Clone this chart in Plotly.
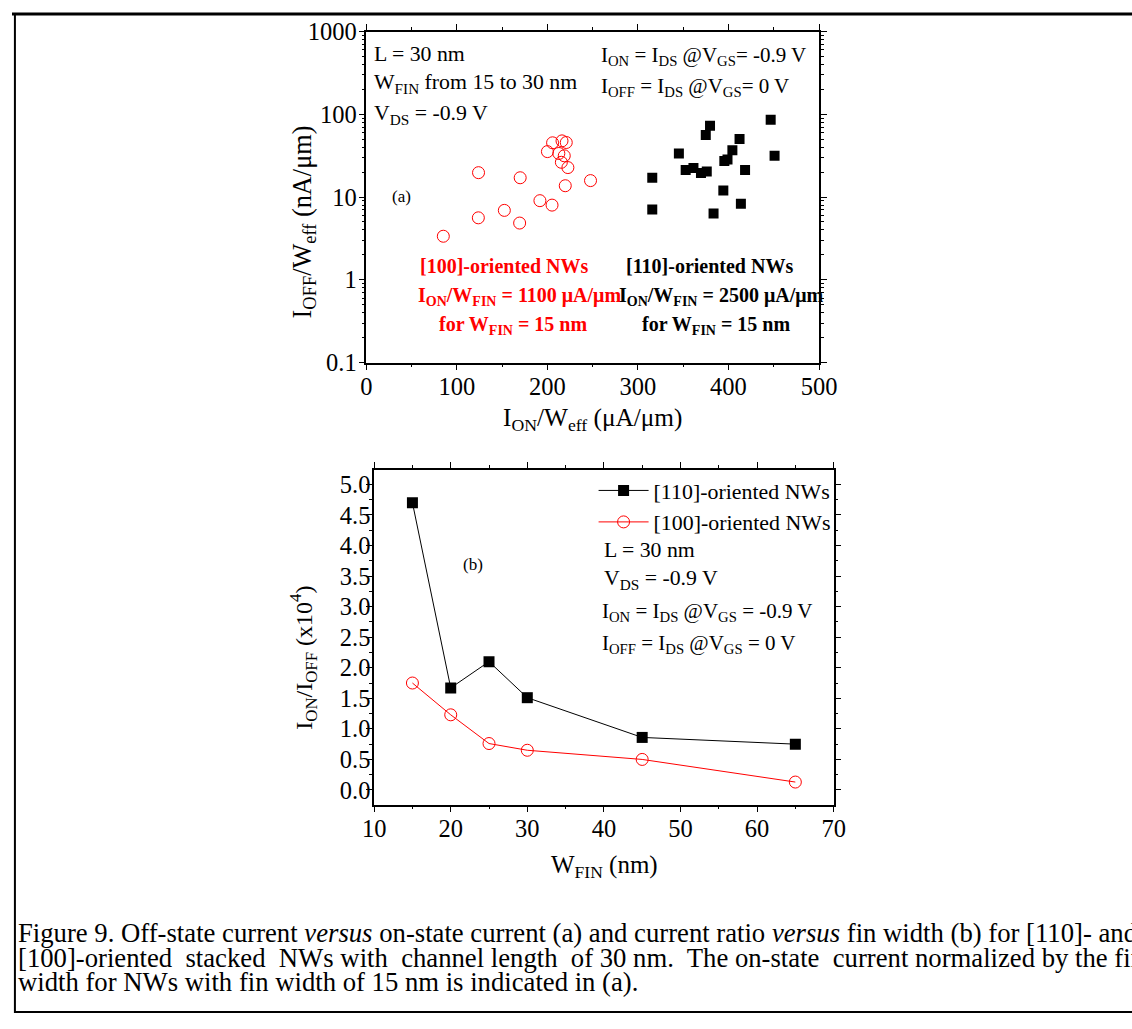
import plotly.graph_objects as go

W, H = 1132, 1029
FONT = "Liberation Serif"

# (a) off-state current vs on-state current
ion_100 = [205.7, 216.1, 220.8, 200.0, 212.6, 218.6, 215.4, 222.6, 123.9, 169.9,
           247.6, 219.7, 191.7, 205.1, 152.4, 123.7, 169.3, 85.0]
ioff_100 = [45.2, 47.7, 45.6, 35.4, 33.6, 31.5, 26.3, 22.7, 19.7, 17.1,
            15.8, 13.7, 9.04, 7.99, 6.90, 5.61, 4.85, 3.36]
ion_110 = [446.6, 379.6, 374.9, 412.2, 345.2, 404.3, 450.9, 398.9, 395.4, 352.7,
           361.3, 369.6, 376.0, 418.3, 315.8, 394.3, 413.7, 315.8, 383.5]
ioff_110 = [85.7, 72.8, 56.2, 50.4, 33.6, 36.7, 31.5, 28.5, 27.2, 21.2,
            22.4, 19.5, 20.4, 21.2, 17.1, 12.0, 8.27, 7.09, 6.31]

# (b) current ratio vs fin width
w_fin = [15, 20, 25, 30, 45, 65]
ratio_110 = [4.70, 1.67, 2.10, 1.51, 0.86, 0.75]
ratio_100 = [1.75, 1.23, 0.76, 0.65, 0.50, 0.13]


def px(x):
    return x / W


def py(y):
    return 1 - y / H


fig = go.Figure()

# panel (a)
fig.add_trace(go.Scatter(
    x=ion_100, y=ioff_100, mode="markers", showlegend=False,
    marker=dict(symbol="circle-open", size=12, color="red", line=dict(width=1)),
    xaxis="x", yaxis="y"))
fig.add_trace(go.Scatter(
    x=ion_110, y=ioff_110, mode="markers", showlegend=False,
    marker=dict(symbol="square", size=10, color="black"),
    xaxis="x", yaxis="y"))

# panel (b)
fig.add_trace(go.Scatter(
    x=w_fin, y=ratio_110, mode="lines+markers", name="[110]-oriented NWs",
    line=dict(color="black", width=1),
    marker=dict(symbol="square", size=11, color="black"),
    xaxis="x2", yaxis="y2"))
fig.add_trace(go.Scatter(
    x=w_fin, y=ratio_100, mode="lines+markers", name="[100]-oriented NWs",
    line=dict(color="red", width=1),
    marker=dict(symbol="circle-open", size=12, color="red", line=dict(width=1)),
    xaxis="x2", yaxis="y2"))

ax_common = dict(
    showline=True, linecolor="black", linewidth=1.5, mirror="ticks",
    ticks="outside", ticklen=6, tickwidth=1.2, tickcolor="black",
    showgrid=False, zeroline=False,
    tickfont=dict(family=FONT, size=24.5, color="black"),
)

fig.update_layout(
    width=W, height=H,
    margin=dict(l=0, r=0, t=0, b=0),
    paper_bgcolor="white", plot_bgcolor="white",
    font=dict(family=FONT, size=21, color="black"),
    xaxis=dict(
        ax_common, domain=[px(364), px(829)], anchor="y", range=[0, 500], dtick=100,
        ticklabelstandoff=-5,
        minor=dict(dtick=50, ticks="outside", ticklen=3, tickcolor="black"),
    ),
    yaxis=dict(
        ax_common, domain=[py(359), py(19)], anchor="x", type="log", range=[-1, 3], dtick=1,
        ticklabelstandoff=-3,
        minor=dict(dtick="D1", ticks="outside", ticklen=3, tickcolor="black"),
    ),
    xaxis2=dict(
        ax_common, domain=[px(372), px(844)], anchor="y2", range=[10, 70], dtick=10,
        ticklabelstandoff=-5,
        minor=dict(dtick=5, ticks="outside", ticklen=3, tickcolor="black"),
    ),
    yaxis2=dict(
        ax_common, domain=[py(813), py(469)], anchor="x2", range=[-0.24, 5.24], dtick=0.5,
        tickformat=".1f", ticklabelstandoff=-9,
        minor=dict(dtick=0.25, ticks="outside", ticklen=3, tickcolor="black"),
    ),
    legend=dict(
        x=px(846), y=py(469), xanchor="right", yanchor="top",
        bgcolor="rgba(0,0,0,0)", font=dict(family=FONT, size=21.9),
        tracegroupgap=0, itemwidth=50,
    ),
)

# axis titles
titles = [
    ("I<sub>ON</sub>/W<sub>eff</sub> (μA/μm)", 596, 417, 0, 25.3),
    ("I<sub>OFF</sub>/W<sub>eff</sub> (nA/μm)", 300, 215, -90, 26.3),
    ("W<sub>FIN</sub> (nm)", 609, 876, 0, 25),
    ("I<sub>ON</sub>/I<sub>OFF</sub> (x10<sup>4</sup>)", 299, 662, -90, 24),
]
for text, x, y, angle, size in titles:
    fig.add_annotation(
        text=text, x=px(x), y=py(y), xref="paper", yref="paper",
        xanchor="center", yanchor="middle", showarrow=False, textangle=angle,
        font=dict(family=FONT, size=size, color="black"))

notes = [
    # panel (a)
    ("L = 30 nm", 370, 42, "left", "black", 21.8),
    ("W<sub>FIN</sub> from 15 to 30 nm", 370, 72, "left", "black", 21.8),
    ("V<sub>DS</sub> = -0.9 V", 370, 104, "left", "black", 21.8),
    ("I<sub>ON</sub> = I<sub>DS</sub> @V<sub>GS</sub>= -0.9 V", 603, 44, "left", "black", 21),
    ("I<sub>OFF</sub> = I<sub>DS</sub> @V<sub>GS</sub>= 0 V", 603, 76, "left", "black", 21),
    ("(a)", 400, 188, "center", "black", 17),
    ("<b>[100]-oriented NWs</b>", 506, 260, "center", "red", 20),
    ("<b>I<sub>ON</sub>/W<sub>FIN</sub> = 1100 μA/μm</b>", 521, 291, "center", "red", 20),
    ("<b>for W<sub>FIN</sub> = 15 nm</b>", 515, 321, "center", "red", 20),
    ("<b>[110]-oriented NWs</b>", 716, 260, "center", "black", 20),
    ("<b>I<sub>ON</sub>/W<sub>FIN</sub> = 2500 μA/μm</b>", 729, 291, "center", "black", 20),
    ("<b>for W<sub>FIN</sub> = 15 nm</b>", 723, 321, "center", "black", 20),
    # panel (b)
    ("(b)", 474, 566, "center", "black", 17),
    ("L = 30 nm", 606, 551, "left", "black", 21.8),
    ("V<sub>DS</sub> = -0.9 V", 606, 582, "left", "black", 21.8),
    ("I<sub>ON</sub> = I<sub>DS</sub> @V<sub>GS</sub> = -0.9 V", 604, 615, "left", "black", 21),
    ("I<sub>OFF</sub> = I<sub>DS</sub> @V<sub>GS</sub> = 0 V", 604, 648, "left", "black", 21),
]
for text, x, y, anchor, color, size in notes:
    fig.add_annotation(
        text=text, x=px(x), y=py(y), xref="paper", yref="paper",
        xanchor=anchor, yanchor="middle", showarrow=False,
        font=dict(family=FONT, size=size, color=color))

caption = [
    "Figure 9. Off-state current <i>versus</i> on-state current (a) and current ratio "
    "<i>versus</i> fin width (b) for [110]- and",
    "[100]-oriented  stacked  NWs with  channel length  of 30 nm.  The on-state  current "
    "normalized by the fin",
    "width for NWs with fin width of 15 nm is indicated in (a).",
]
for i, line in enumerate(caption):
    fig.add_annotation(
        text=line, x=px(4), y=py(945 + 25 * i), xref="paper", yref="paper",
        xanchor="left", yanchor="middle", showarrow=False,
        font=dict(family=FONT, size=26.7, color="black"))

# page frame
fig.add_shape(type="line", xref="paper", yref="paper", x0=0, x1=px(1156),
              y0=py(1), y1=py(1), line=dict(color="black", width=3))
fig.add_shape(type="line", xref="paper", yref="paper", x0=px(3), x1=px(3),
              y0=1, y1=py(1027), line=dict(color="black", width=2))
fig.add_shape(type="line", xref="paper", yref="paper", x0=px(3), x1=px(1156),
              y0=py(1026), y1=py(1026), line=dict(color="black", width=2))

pin = (
    "document.body.style.margin='0px';"
    "var d=document.getElementById('{plot_id}');"
    "d.style.position='fixed';d.style.left='0px';d.style.top='0px';"
)
fig.write_html("out.html", config={"displayModeBar": False}, post_script=pin)
